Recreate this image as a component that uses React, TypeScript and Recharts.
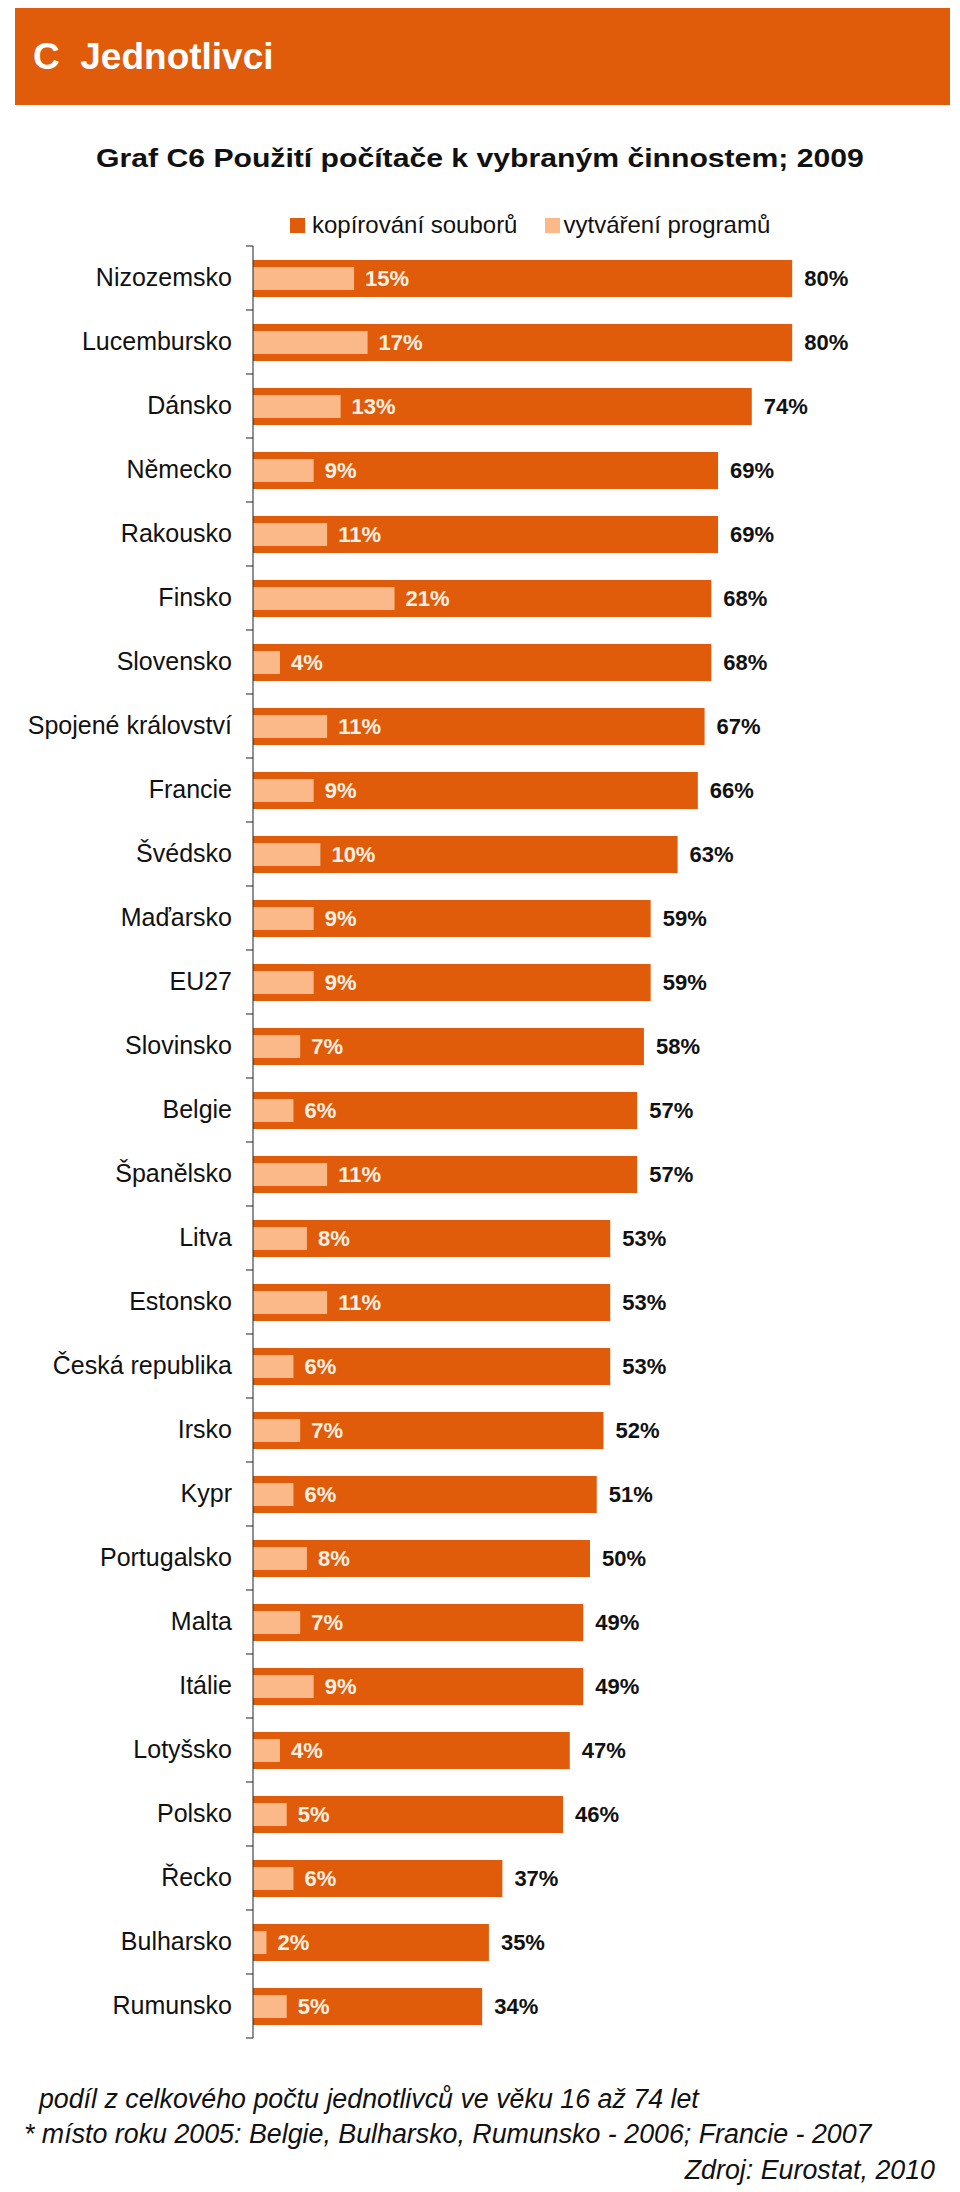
import React from 'react';
import { BarChart, Bar, XAxis, YAxis, LabelList } from 'recharts';

// data (% of individuals aged 16-74)
const countries = [
  'Nizozemsko', 'Lucembursko', 'Dánsko', 'Německo', 'Rakousko', 'Finsko', 'Slovensko',
  'Spojené království', 'Francie', 'Švédsko', 'Maďarsko', 'EU27', 'Slovinsko', 'Belgie',
  'Španělsko', 'Litva', 'Estonsko', 'Česká republika', 'Irsko', 'Kypr', 'Portugalsko',
  'Malta', 'Itálie', 'Lotyšsko', 'Polsko', 'Řecko', 'Bulharsko', 'Rumunsko',
];
const copyFiles = [80, 80, 74, 69, 69, 68, 68, 67, 66, 63, 59, 59, 58, 57, 57, 53, 53, 53, 52, 51, 50, 49, 49, 47, 46, 37, 35, 34];
const writePrograms = [15, 17, 13, 9, 11, 21, 4, 11, 9, 10, 9, 9, 7, 6, 11, 8, 11, 6, 7, 6, 8, 7, 9, 4, 5, 6, 2, 5];
const seriesNames = ['kopírování souborů', 'vytváření programů'];

const ORANGE = '#E05B0A';
const PEACH = '#FBB98A';
const FONT = '"Liberation Sans", Arial, Helvetica, sans-serif';
const TICK = 7;
const GAP = 14;

const data = countries.map((name, i) => ({ name, copy: copyFiles[i], prog: writePrograms[i] }));

const pct = (v: number) => `${v}%`;

const CountryTick = (props: any) => {
  const { x, y, payload, index, visibleTicksCount } = props;
  const half = payload?.offset || 32;
  const ax = x + TICK + GAP;
  const last = index === visibleTicksCount - 1;
  return (
    <g>
      <line x1={ax - TICK} x2={ax} y1={y - half} y2={y - half} stroke="#222" />
      {last && <line x1={ax - TICK} x2={ax} y1={y + half} y2={y + half} stroke="#222" />}
      <text x={x} y={y} dy={8} textAnchor="end" fontSize={25} fill="#111" fontFamily={FONT}>
        {payload.value}
      </text>
    </g>
  );
};

export default function App() {
  return (
    <div style={{ position: 'absolute', left: 0, top: 0, width: 960, height: 2192, background: '#fff', fontFamily: FONT, color: '#111' }}>
      <div style={{ position: 'absolute', left: 15, top: 8, width: 935, height: 97, background: ORANGE }} />
      <div style={{ position: 'absolute', left: 33, top: 34, fontSize: 37, fontWeight: 'bold', color: '#fff', lineHeight: '46px', whiteSpace: 'pre' }}>
        {'C  Jednotlivci'}
      </div>

      <div style={{ position: 'absolute', left: 0, width: 960, top: 142, textAlign: 'center', lineHeight: '32px' }}>
        <span style={{ display: 'inline-block', fontSize: 26, fontWeight: 'bold', transform: 'scaleX(1.16)' }}>
          Graf C6 Použití počítače k vybraným činnostem; 2009
        </span>
      </div>

      <div style={{ position: 'absolute', left: 290, top: 211, display: 'flex', alignItems: 'center', fontSize: 24, lineHeight: '28px', whiteSpace: 'nowrap' }}>
        <span style={{ width: 15, height: 15, background: ORANGE, display: 'inline-block', marginRight: 7 }} />
        <span>{seriesNames[0]}</span>
        <span style={{ width: 15, height: 15, background: PEACH, display: 'inline-block', marginLeft: 28, marginRight: 3 }} />
        <span>{seriesNames[1]}</span>
      </div>

      <div style={{ position: 'absolute', left: 0, top: 240 }}>
        <BarChart
          width={960}
          height={1802}
          data={data}
          layout="vertical"
          margin={{ top: 6, right: 33, bottom: 4, left: 0 }}
        >
          <XAxis type="number" domain={[0, 100]} hide />
          <YAxis
            yAxisId="a"
            type="category"
            dataKey="name"
            width={253}
            interval={0}
            tickSize={TICK}
            tickMargin={GAP}
            tickLine={false}
            axisLine={{ stroke: '#222' }}
            tick={<CountryTick />}
          />
          <YAxis yAxisId="b" type="category" dataKey="name" hide />
          <Bar dataKey="copy" name={seriesNames[0]} yAxisId="a" fill={ORANGE} barSize={37} isAnimationActive={false}>
            <LabelList
              dataKey="copy"
              position="right"
              offset={12}
              formatter={pct}
              style={{ fontSize: 22, fontWeight: 'bold', fill: '#111', fontFamily: FONT }}
            />
          </Bar>
          <Bar dataKey="prog" name={seriesNames[1]} yAxisId="b" fill={PEACH} barSize={23} isAnimationActive={false}>
            <LabelList
              dataKey="prog"
              position="right"
              offset={11}
              formatter={pct}
              style={{ fontSize: 22, fontWeight: 'bold', fill: '#FFF1E2', fontFamily: FONT }}
            />
          </Bar>
        </BarChart>
      </div>

      <div style={{ position: 'absolute', left: 24, top: 2082, fontSize: 26.8, fontStyle: 'italic', lineHeight: '35px', whiteSpace: 'pre' }}>
        {'  podíl z celkového počtu jednotlivců ve věku 16 až 74 let\n* místo roku 2005: Belgie, Bulharsko, Rumunsko - 2006; Francie - 2007'}
      </div>
      <div style={{ position: 'absolute', right: 25, top: 2153, fontSize: 26.8, fontStyle: 'italic', lineHeight: '35px', whiteSpace: 'pre' }}>
        Zdroj: Eurostat, 2010
      </div>
    </div>
  );
}
